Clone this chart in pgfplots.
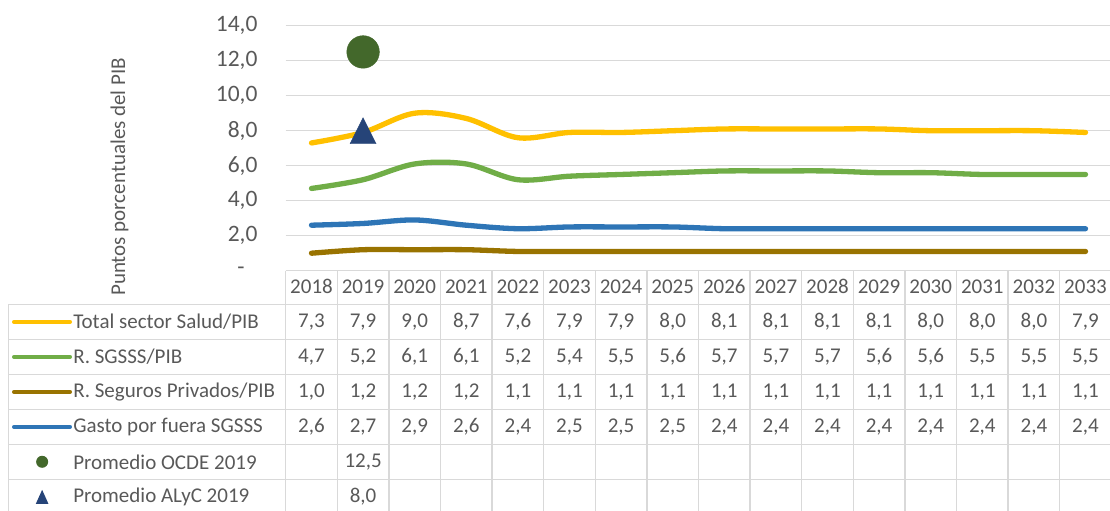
\documentclass[border=0pt]{standalone}
\usepackage{fontspec}
\setmainfont{Carlito}
\usepackage{pgfplots}
\pgfplotsset{compat=1.18}
\usepackage{pgfplotstable}

\definecolor{cTot}{HTML}{FFC000}
\definecolor{cSG}{HTML}{70AD47}
\definecolor{cPriv}{HTML}{997300}
\definecolor{cFue}{HTML}{2E75B6}
\definecolor{cOCDE}{HTML}{43682B}
\definecolor{cALC}{HTML}{264478}
\definecolor{txt}{HTML}{595959}
\definecolor{grd}{HTML}{D9D9D9}

\newcommand\tabfont{\fontsize{21}{25}\selectfont}

\pgfdeclareplotmark{xtri}{%
  \pgfpathmoveto{\pgfqpoint{0pt}{\pgfplotmarksize}}%
  \pgfpathlineto{\pgfqpoint{-\pgfplotmarksize}{-\pgfplotmarksize}}%
  \pgfpathlineto{\pgfqpoint{\pgfplotmarksize}{-\pgfplotmarksize}}%
  \pgfpathclose\pgfusepathqfillstroke}

\pgfplotstableread{
x tot sg priv fue
0 7.3 4.7 1.0 2.6
1 7.9 5.2 1.2 2.7
2 9.0 6.1 1.2 2.9
3 8.7 6.1 1.2 2.6
4 7.6 5.2 1.1 2.4
5 7.9 5.4 1.1 2.5
6 7.9 5.5 1.1 2.5
7 8.0 5.6 1.1 2.5
8 8.1 5.7 1.1 2.4
9 8.1 5.7 1.1 2.4
10 8.1 5.7 1.1 2.4
11 8.1 5.6 1.1 2.4
12 8.0 5.6 1.1 2.4
13 8.0 5.5 1.1 2.4
14 8.0 5.5 1.1 2.4
15 7.9 5.5 1.1 2.4
}\data

\pgfplotstableread{
x ocde
1 12.5
}\ocde

\pgfplotstableread{
x alc
1 8.0
}\alc

\pgfplotsset{
  cellrow/.style={scatter, only marks, mark=*, mark size=0pt,
    scatter/use mapped color={draw=none,fill=none},
    point meta=explicit,
    scatter/@pre marker code/.code={\node[txt, font=\tabfont, inner sep=0pt, anchor=center]
      {\pgfmathprintnumber[use comma, fixed, fixed zerofill, precision=1, assume math mode=true]{\pgfplotspointmeta}};},
    scatter/@post marker code/.code={}},
  serie/.style={line width=5.3pt, line cap=round, line join=round, smooth, tension=0.55, mark=none},
}

\begin{document}
\begin{tikzpicture}
\begin{axis}[
  scale only axis, width=825.6pt, height=245pt,
  xmin=-0.5, xmax=15.5, ymin=0, ymax=14,
  clip=false,
  axis line style={draw=none},
  major tick length=0pt,
  point meta min=0, point meta max=20,
  ytick={0,2,4,6,8,10,12,14},
  yticklabels={{-\hspace*{13pt}},{2,0},{4,0},{6,0},{8,0},{10,0},{12,0},{14,0}},
  ymajorgrids, grid style={grd, line width=1.5pt},
  xtick={0,1,2,3,4,5,6,7,8,9,10,11,12,13,14,15},
  xticklabels={2018,2019,2020,2021,2022,2023,2024,2025,2026,2027,2028,2029,2030,2031,2032,2033},
  tick label style={txt},
  yticklabel style={font=\fontsize{23.5}{28}\selectfont, anchor=east, inner sep=0pt, xshift=-28pt},
  xticklabel style={font=\tabfont, anchor=center, inner sep=0pt, yshift=-16pt},
]
% table grid
\foreach \yy in {-1.92,-3.92,-5.92,-7.92,-9.92,-11.92}{
  \edef\tmp{\noexpand\draw[grd, line width=1.5pt] (axis cs:-5.876,\yy) -- (axis cs:15.5,\yy);}\tmp
}
\draw[grd, line width=1.5pt] (axis cs:-5.876,-1.92) -- (axis cs:-5.876,-13.92);
\foreach \xx in {-0.5,0.5,1.5,2.5,3.5,4.5,5.5,6.5,7.5,8.5,9.5,10.5,11.5,12.5,13.5,14.5,15.5}{
  \edef\tmp{\noexpand\draw[grd, line width=1.5pt] (axis cs:\xx,0) -- (axis cs:\xx,-13.92);}\tmp
}

% series
\addplot[serie, cTot] table[x=x, y=tot] {\data};
\addplot[serie, cSG] table[x=x, y=sg] {\data};
\addplot[serie, cPriv] table[x=x, y=priv] {\data};
\addplot[serie, cFue] table[x=x, y=fue] {\data};
\addplot[only marks, mark=*, mark size=16.3pt, draw=cOCDE, fill=cOCDE] table[x=x, y=ocde] {\ocde};
\addplot[only marks, mark=xtri, mark size=13pt, draw=cALC, fill=cALC] table[x=x, y=alc] {\alc};

% data table values
\addplot[cellrow] table[x=x, y expr=-2.92, meta=tot] {\data};
\addplot[cellrow] table[x=x, y expr=-4.92, meta=sg] {\data};
\addplot[cellrow] table[x=x, y expr=-6.92, meta=priv] {\data};
\addplot[cellrow] table[x=x, y expr=-8.92, meta=fue] {\data};
\addplot[cellrow] table[x=x, y expr=-10.92, meta=ocde] {\ocde};
\addplot[cellrow] table[x=x, y expr=-12.92, meta=alc] {\alc};

% legend keys
\draw[cTot, line width=4pt, line cap=round] (axis cs:-5.765,-2.92) -- (axis cs:-4.68,-2.92);
\draw[cSG, line width=4pt, line cap=round] (axis cs:-5.765,-4.92) -- (axis cs:-4.68,-4.92);
\draw[cPriv, line width=4pt, line cap=round] (axis cs:-5.765,-6.92) -- (axis cs:-4.68,-6.92);
\draw[cFue, line width=4pt, line cap=round] (axis cs:-5.765,-8.92) -- (axis cs:-4.68,-8.92);
\fill[cOCDE] (axis cs:-5.22,-10.92) circle (6pt);
\fill[cALC] ([shift={(0pt,7pt)}]axis cs:-5.22,-12.92) -- ([shift={(-6.3pt,-7pt)}]axis cs:-5.22,-12.92) -- ([shift={(6.3pt,-7pt)}]axis cs:-5.22,-12.92) -- cycle;

\node[txt, font=\tabfont, anchor=west, inner sep=0pt] at (axis cs:-4.62,-2.92) {Total sector Salud/PIB};
\node[txt, font=\tabfont, anchor=west, inner sep=0pt] at (axis cs:-4.62,-4.92) {R. SGSSS/PIB};
\node[txt, font=\tabfont, anchor=west, inner sep=0pt] at (axis cs:-4.62,-6.92) {R. Seguros Privados/PIB};
\node[txt, font=\tabfont, anchor=west, inner sep=0pt] at (axis cs:-4.62,-8.92) {Gasto por fuera SGSSS};
\node[txt, font=\tabfont, anchor=west, inner sep=0pt] at (axis cs:-4.62,-10.92) {Promedio OCDE 2019};
\node[txt, font=\tabfont, anchor=west, inner sep=0pt] at (axis cs:-4.62,-12.92) {Promedio ALyC 2019};

% y label
\node[txt, font=\fontsize{21}{25}\selectfont, rotate=90, anchor=center] at (axis cs:-3.72,5.366) {Puntos porcentuales del PIB};

\coordinate (BL) at (axis cs:-6.0368,-13.674);
\coordinate (TR) at (axis cs:15.475,15.469);
\end{axis}
\pgfresetboundingbox
\path[use as bounding box] (BL) rectangle (TR);
\end{tikzpicture}
\end{document}
